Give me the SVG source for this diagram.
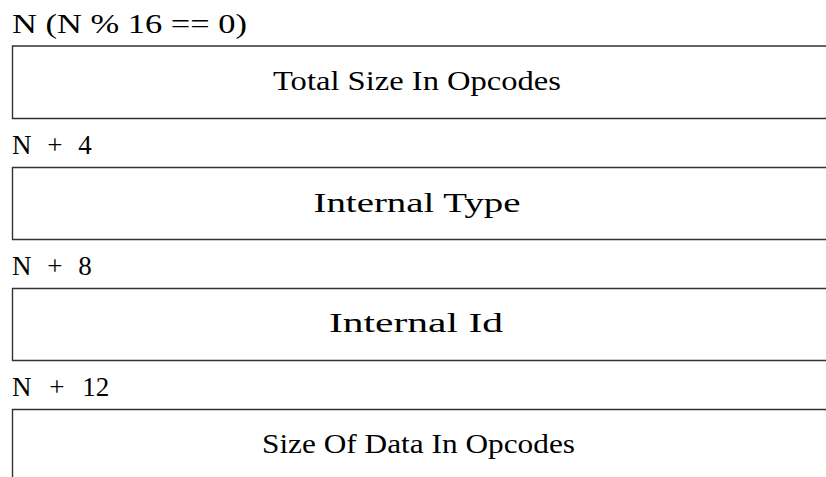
<svg xmlns="http://www.w3.org/2000/svg" width="826" height="477" viewBox="0 0 826 477">
<style>
text{font-family:"Liberation Serif","Times New Roman",serif;font-size:27px;fill:#000}
.c{text-anchor:middle}
.o{word-spacing:9px}
.b{fill:none;stroke:#333;stroke-width:1.4}
</style>
<rect width="826" height="477" fill="#fff"/>
<g id="field0">
<text x="12" y="33" textLength="235" lengthAdjust="spacingAndGlyphs">N (N % 16 == 0)</text>
<path class="b" d="M830 46H12.5V118.5H830"/>
<text class="c" x="417" y="90" textLength="288" lengthAdjust="spacingAndGlyphs">Total Size In Opcodes</text>
</g>
<g id="field4">
<text class="o" x="12" y="154">N + 4</text>
<path class="b" d="M830 167.5H12.5V239.5H830"/>
<text class="c" x="417" y="212" textLength="207" lengthAdjust="spacingAndGlyphs">Internal Type</text>
</g>
<g id="field8">
<text class="o" x="12" y="275">N + 8</text>
<path class="b" d="M830 288.5H12.5V360.5H830"/>
<text class="c" x="416" y="332" textLength="174" lengthAdjust="spacingAndGlyphs">Internal Id</text>
</g>
<g id="field12">
<text class="o" x="12" y="396" style="word-spacing:11px">N + 12</text>
<path class="b" d="M830 409.5H12.5V480"/>
<text class="c" x="418.5" y="453" textLength="313" lengthAdjust="spacingAndGlyphs">Size Of Data In Opcodes</text>
</g>
<g id="connectors"/>
</svg>
